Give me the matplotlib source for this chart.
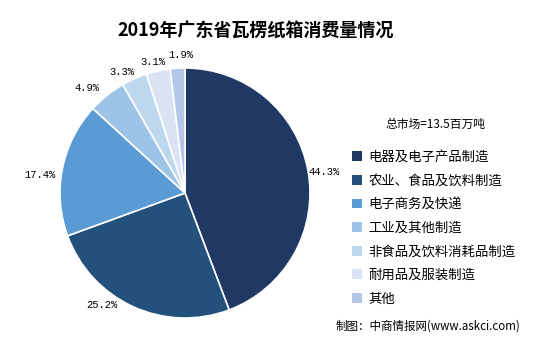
import matplotlib
matplotlib.use("Agg")
import matplotlib.pyplot as plt
from matplotlib.patches import Patch

plt.rcParams['font.family'] = ['Noto Sans CJK SC', 'DejaVu Sans']

categories = ["电器及电子产品制造", "农业、食品及饮料制造", "电子商务及快递",
              "工业及其他制造", "非食品及饮料消耗品制造", "耐用品及服装制造", "其他"]
values = [44.3, 25.2, 17.4, 4.9, 3.3, 3.1, 1.9]
colors = ["#203864", "#24507C", "#5B9BD5", "#9DC3E6", "#BDD7EE", "#DAE3F3", "#B4C7E7"]
title = "2019年广东省瓦楞纸箱消费量情况"
total_note = "总市场=13.5百万吨"
source = "制图：中商情报网(www.askci.com)"

# label nudges in pixels (right, down) from the radial position
label_nudge_px = [(6, 3), (-27, -11), (-12, 8), (-13, 1), (-8, 3), (-3, 1), (4, -3)]

R_PX = 125
fig = plt.figure(figsize=(5.48, 3.52), dpi=100)
ax = fig.add_axes([60/548, 1 - 318/352, 250/548, 250/352])
wedges, texts = ax.pie(values, colors=colors, startangle=90, counterclock=False,
                       wedgeprops=dict(edgecolor='white', linewidth=1.2),
                       labels=[f"{v}%" for v in values], labeldistance=1.085,
                       textprops=dict(fontsize=7.6, family=['Liberation Mono', 'DejaVu Sans Mono']))
for t, (dx, dy) in zip(texts, label_nudge_px):
    t.set_horizontalalignment('center')
    t.set_verticalalignment('center')
    x, y = t.get_position()
    t.set_position((x + dx / R_PX, y - dy / R_PX))
ax.set_xlim(-1, 1)
ax.set_ylim(-1, 1)
ax.set_aspect('equal')

fig.text(256/548, 1 - 31/352, title, ha='center', va='center', fontsize=13, fontweight='bold')
fig.text(435/548, 1 - 124/352, total_note, ha='center', va='center', fontsize=8.5)
fig.text(428/548, 1 - 326/352, source, ha='center', va='center', fontsize=8.3)

handles = [Patch(facecolor=c, edgecolor='none') for c in colors]
leg = fig.legend(handles, categories, loc='upper left', bbox_to_anchor=(352/548, 1 - 150/352),
                 frameon=False, fontsize=9.6, handlelength=0.75, handleheight=0.75,
                 handletextpad=0.5, labelspacing=0.72, borderaxespad=0, borderpad=0)

fig.savefig("out.png", dpi=100)
